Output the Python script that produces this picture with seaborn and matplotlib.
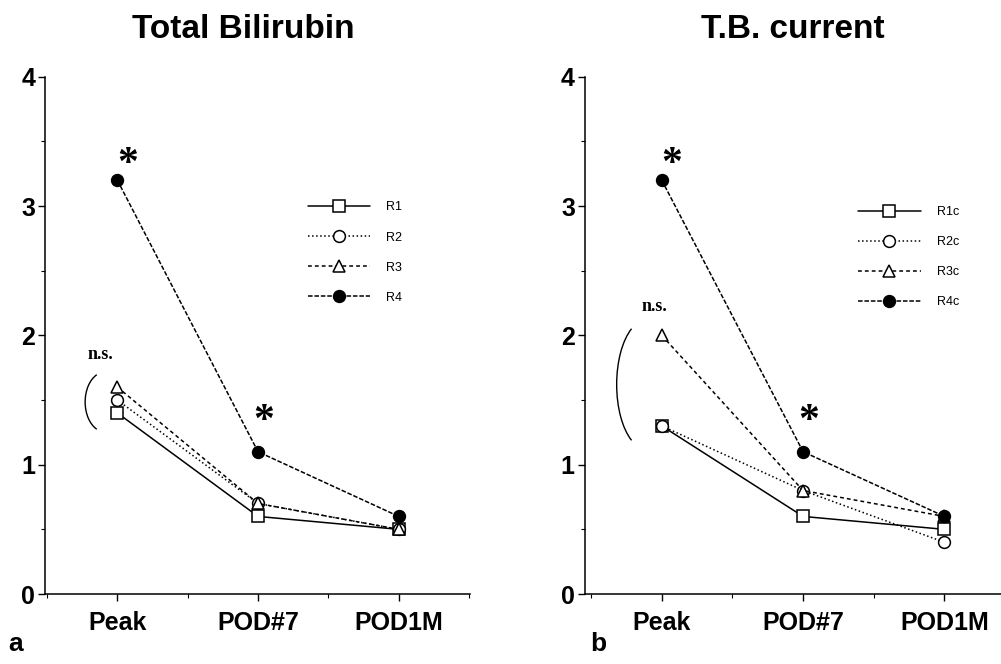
import matplotlib
matplotlib.use("Agg")
import matplotlib.pyplot as plt
from matplotlib.patches import Arc
from matplotlib.ticker import MultipleLocator
import seaborn as sns

# Data
timepoints = ['Peak', 'POD#7', 'POD1M']

left_labels = ['R1', 'R2', 'R3', 'R4']
r1 = [1.4, 0.6, 0.5]
r2 = [1.5, 0.7, 0.5]
r3 = [1.6, 0.7, 0.5]
r4 = [3.2, 1.1, 0.6]

right_labels = ['R1c', 'R2c', 'R3c', 'R4c']
r1c = [1.3, 0.6, 0.5]
r2c = [1.3, 0.8, 0.4]
r3c = [2.0, 0.8, 0.6]
r4c = [3.2, 1.1, 0.6]

sns.set_theme(style='ticks')
plt.rcParams['font.family'] = ['Liberation Sans', 'DejaVu Sans']
plt.rcParams.update({'text.color': 'black', 'xtick.color': 'black',
                     'ytick.color': 'black', 'axes.labelcolor': 'black'})

# one style per group (square / circle / triangle / filled circle)
STYLES = [
    dict(marker='s', linestyle='-', mfc='white'),
    dict(marker='o', linestyle=':', mfc='white'),
    dict(marker='^', linestyle=(0, (2.5, 2)), mfc='white'),
    dict(marker='o', linestyle=(0, (3, 1.2)), mfc='black'),
]


def draw_panel(ax, series, labels, title, xlim, title_x):
    for vals, lab, st in zip(series, labels, STYLES):
        sns.lineplot(x=timepoints, y=vals, ax=ax, color='black', lw=1.1,
                     marker=st['marker'], linestyle=st['linestyle'],
                     markerfacecolor=st['mfc'], markeredgecolor='black',
                     markeredgewidth=1.1, markersize=8.5, label=lab, sort=False)
    ax.set_xlim(*xlim)
    ax.set_ylim(0, 4)
    ax.set_yticks([0, 1, 2, 3, 4])
    ax.yaxis.set_minor_locator(MultipleLocator(0.5))
    ax.xaxis.set_minor_locator(MultipleLocator(0.5))
    ax.tick_params(axis='both', which='major', length=5, width=1, direction='out')
    ax.tick_params(axis='both', which='minor', length=3, width=0.8, direction='out')
    ax.tick_params(axis='y', labelsize=18, pad=2)
    ax.tick_params(axis='x', labelsize=18, pad=7)
    for t in ax.get_xticklabels() + ax.get_yticklabels():
        t.set_fontweight('bold')
    ax.set_xlabel('')
    ax.set_ylabel('')
    sns.despine(ax=ax)
    for s in ['left', 'bottom']:
        ax.spines[s].set_linewidth(1.1)
        ax.spines[s].set_color('black')
    ax.set_title(title, fontsize=24, fontweight='bold', pad=28, x=title_x)


fig = plt.figure(figsize=(10.01, 6.64), dpi=100)
ax1 = fig.add_axes([0.045, 0.1054, 0.425, 0.779])
ax2 = fig.add_axes([0.584, 0.1054, 0.416, 0.779])

draw_panel(ax1, [r1, r2, r3, r4], left_labels, 'Total Bilirubin', (-0.514, 2.51), 0.465)
draw_panel(ax2, [r1c, r2c, r3c, r4c], right_labels, 'T.B. current', (-0.546, 2.4), 0.5)

ax1.legend(loc='upper left', bbox_to_anchor=(0.301, 0.706), bbox_transform=fig.transFigure,
           frameon=False, fontsize=9, handlelength=5.0, labelspacing=1.45,
           handletextpad=1.3, borderpad=0)
ax2.legend(loc='upper left', bbox_to_anchor=(0.851, 0.699), bbox_transform=fig.transFigure,
           frameon=False, fontsize=9, handlelength=5.0, labelspacing=1.45,
           handletextpad=1.3, borderpad=0)

# significance marks
for ax in (ax1, ax2):
    ax.text(0.07, 3.32, '*', fontsize=30, fontweight='bold', ha='center', va='center',
            family=['Liberation Serif', 'DejaVu Serif'])
    ax.text(1.04, 1.33, '*', fontsize=30, fontweight='bold', ha='center', va='center',
            family=['Liberation Serif', 'DejaVu Serif'])

ax1.text(-0.12, 1.85, 'n.s.', fontsize=13, fontweight='bold', ha='center', va='center',
         family=['Liberation Serif', 'DejaVu Serif'])
ax2.text(-0.05, 2.22, 'n.s.', fontsize=13, fontweight='bold', ha='center', va='center',
         family=['Liberation Serif', 'DejaVu Serif'])

ax1.add_patch(Arc((-0.086, 1.485), 0.286, 0.465, theta1=106, theta2=254, color='black', lw=1))
ax2.add_patch(Arc((-0.106, 1.62), 0.426, 1.0, theta1=104, theta2=256, color='black', lw=1))

fig.text(0.008, 0.03, 'a', fontsize=19, fontweight='bold', ha='left', va='center')
fig.text(0.59, 0.03, 'b', fontsize=19, fontweight='bold', ha='left', va='center')

plt.savefig('out.png', dpi=100)
